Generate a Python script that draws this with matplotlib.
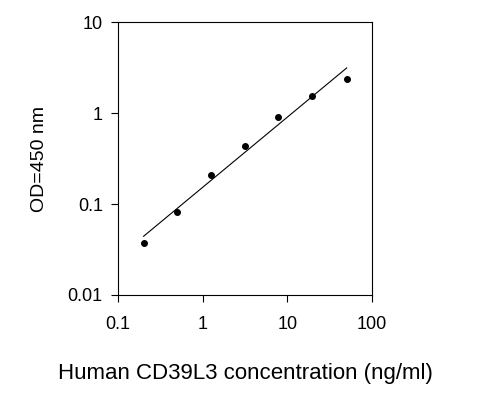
import matplotlib
matplotlib.use("Agg")
import matplotlib.pyplot as plt
import numpy as np

plt.rcParams["font.family"] = ["Liberation Sans", "DejaVu Sans"]

conc = [0.2, 0.5, 1.25, 3.125, 7.8, 19.5, 50]
od = [0.037, 0.082, 0.21, 0.44, 0.91, 1.55, 2.4]
x_ticks = [0.1, 1, 10, 100]
x_labels = ["0.1", "1", "10", "100"]
y_ticks = [0.01, 0.1, 1, 10]
y_labels = ["0.01", "0.1", "1", "10"]

fig = plt.figure(figsize=(4.84, 4.03), dpi=100)
ax = fig.add_axes([0.244, 0.268, 0.525, 0.677])

# straight fit in log-log space
k, b = np.polyfit(np.log10(conc), np.log10(od), 1)
xf = np.array([conc[0], conc[-1]])
ax.plot(xf, 10 ** (k * np.log10(xf) + b), color="black", lw=0.8)
ax.plot(conc, od, "o", color="black", ms=4)

ax.set_xscale("log")
ax.set_yscale("log")
ax.set_xlim(0.1, 100)
ax.set_ylim(0.01, 10)
ax.minorticks_off()
ax.set_xticks(x_ticks)
ax.set_xticklabels(x_labels)
ax.set_yticks(y_ticks)
ax.set_yticklabels(y_labels)
ax.tick_params(direction="out", labelsize=13, length=5)
ax.tick_params(axis="x", pad=10)
ax.tick_params(axis="y", pad=6)
for s in ax.spines.values():
    s.set_linewidth(0.8)
ax.set_ylabel("OD=450 nm", fontsize=14, labelpad=14)
ax.set_xlabel("Human CD39L3 concentration (ng/ml)", fontsize=16, labelpad=22)

fig.savefig("out.png", dpi=100)
